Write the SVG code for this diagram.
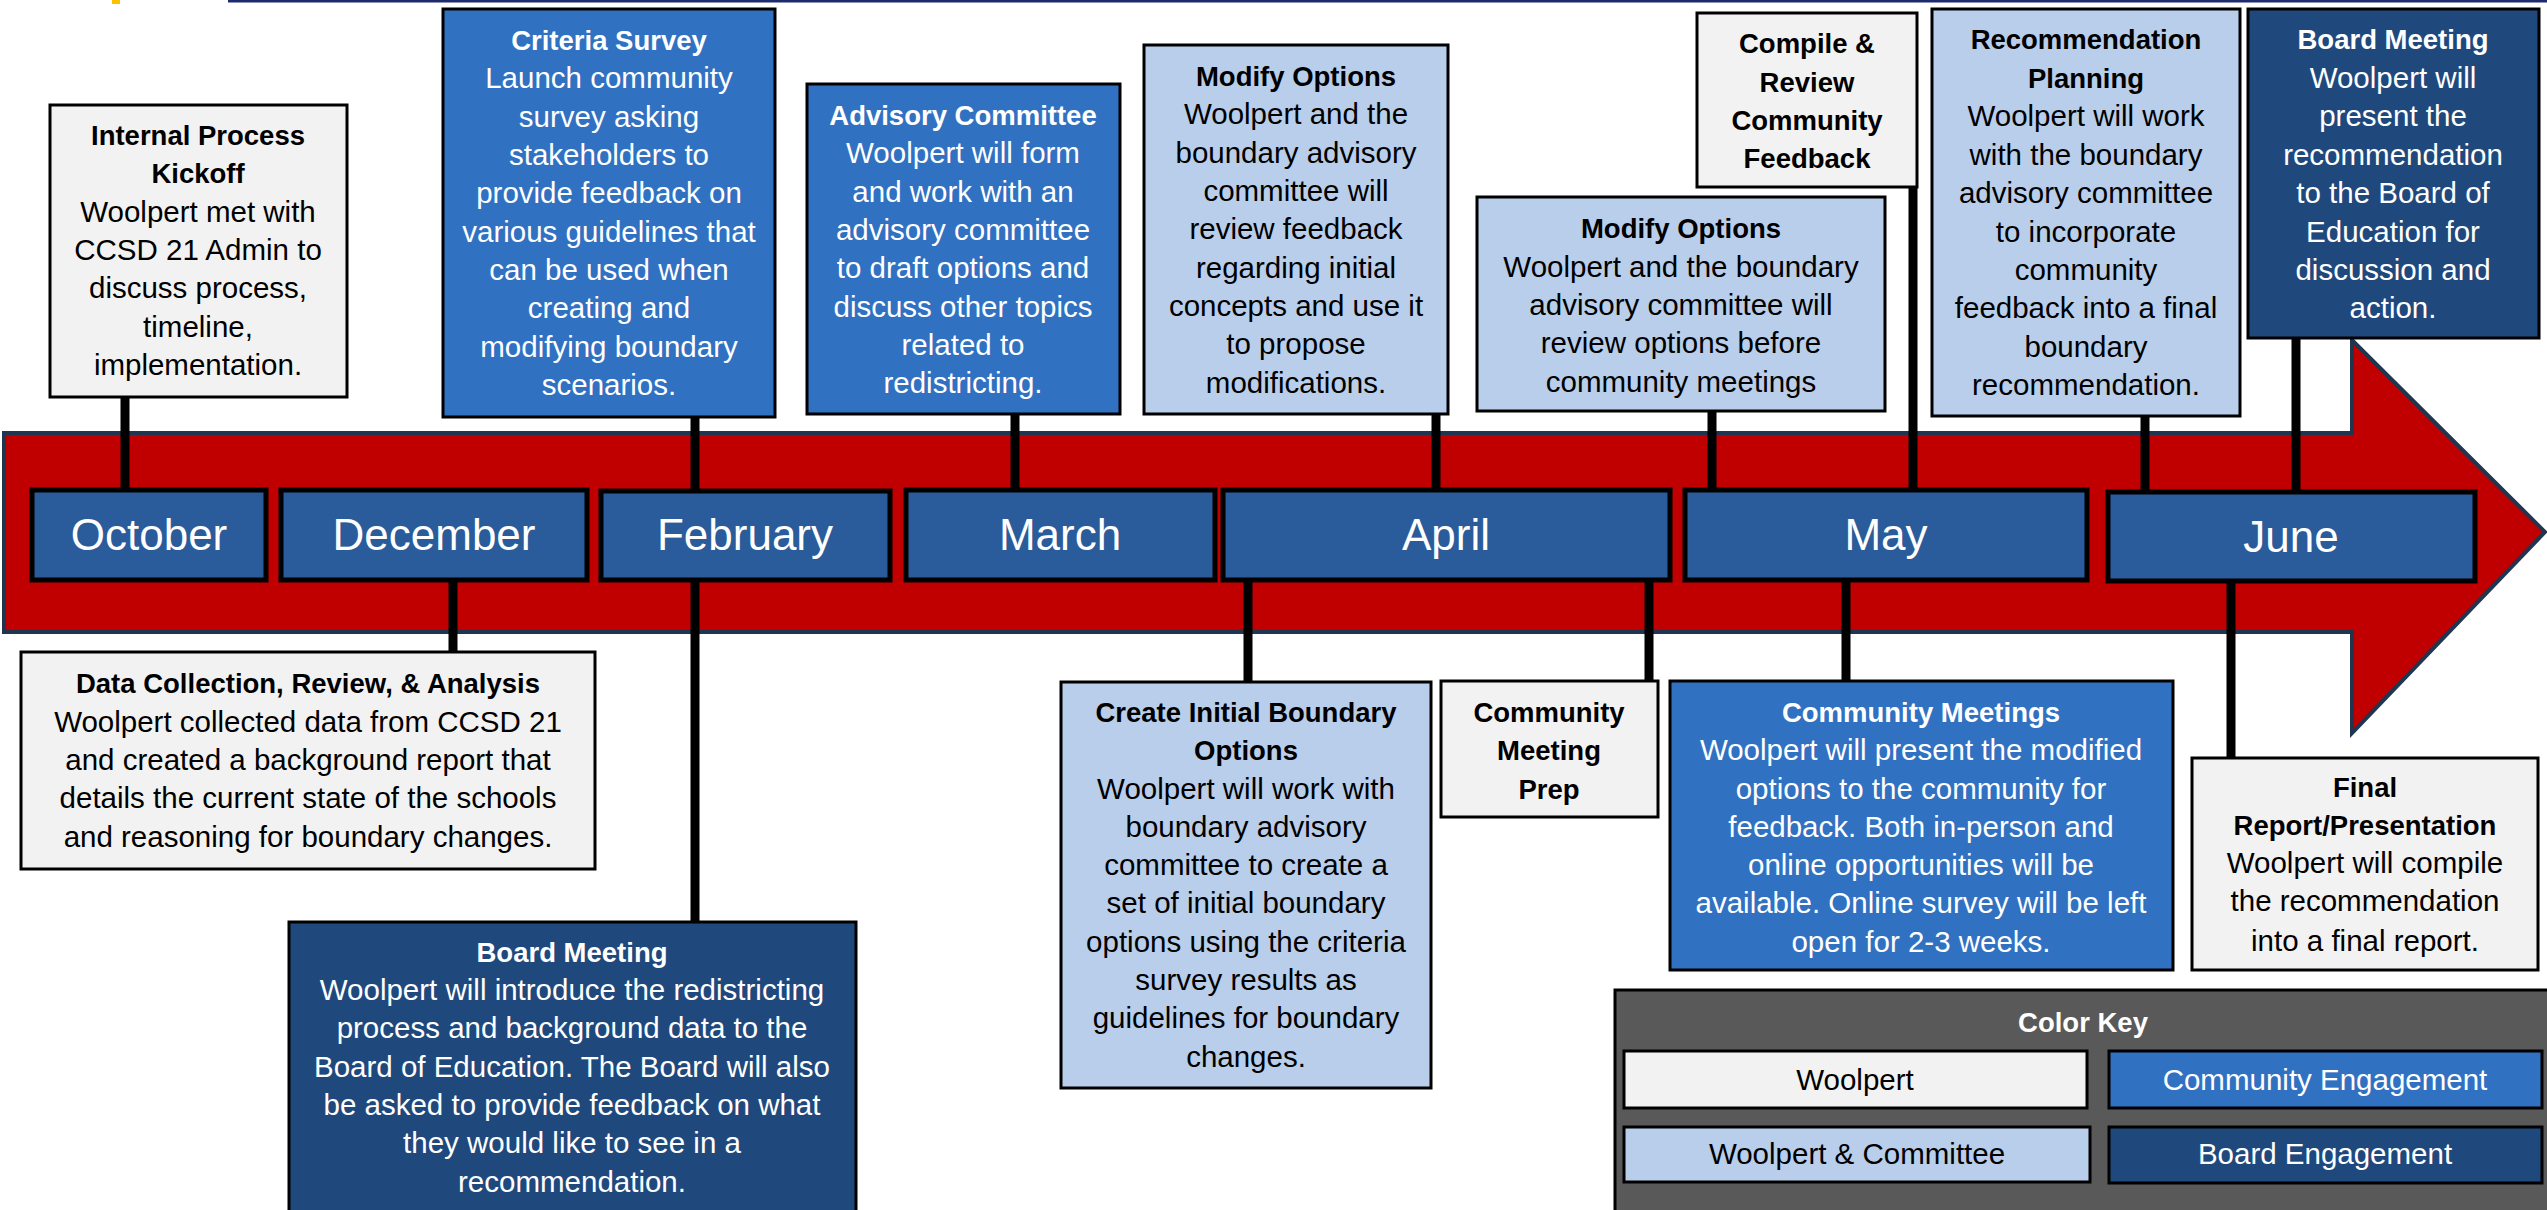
<svg xmlns="http://www.w3.org/2000/svg" width="2547" height="1210" viewBox="0 0 2547 1210">
<style>
.box{stroke:#000;stroke-width:3}
.w{fill:#F2F2F2}
.lb{fill:#B8CEEB}
.mb{fill:#3171C1}
.nb{fill:#1F497D}
.mo{fill:#2A5B9A;stroke:#000;stroke-width:5}
.t{font-family:"Liberation Sans",Arial,sans-serif;font-size:29.5px;text-anchor:middle}
.b{font-weight:bold;font-size:27.5px}
.dk{fill:#000}
.lt{fill:#fff}
.mt{font-family:"Liberation Sans",Arial,sans-serif;font-size:44px;fill:#fff;text-anchor:middle}
.con{stroke:#000;stroke-width:9;fill:none}
</style>
<rect x="0" y="0" width="2547" height="1210" fill="#fff"/>
<rect x="112" y="0" width="8" height="4" fill="#FFC000"/>
<rect x="228" y="0" width="2319" height="2.5" fill="#1F2A6E"/>

<g id="arrow">
<path d="M4,433 H2352 V340 L2545,532 L2352,733 V632 H4 Z" fill="#C00000" stroke="#1F3550" stroke-width="4"/>
</g>

<g id="connectors">
<line class="con" x1="125" y1="397" x2="125" y2="490"/>
<line class="con" x1="695" y1="417" x2="695" y2="491"/>
<line class="con" x1="1015" y1="414" x2="1015" y2="490"/>
<line class="con" x1="1436" y1="414" x2="1436" y2="490"/>
<line class="con" x1="1712" y1="411" x2="1712" y2="490"/>
<line class="con" x1="1913" y1="187" x2="1913" y2="490"/>
<line class="con" x1="2145" y1="416" x2="2145" y2="492"/>
<line class="con" x1="2296" y1="338" x2="2296" y2="492"/>
<line class="con" x1="453" y1="580" x2="453" y2="652"/>
<line class="con" x1="695" y1="580" x2="695" y2="922"/>
<line class="con" x1="1248" y1="580" x2="1248" y2="682"/>
<line class="con" x1="1649" y1="580" x2="1649" y2="681"/>
<line class="con" x1="1846" y1="580" x2="1846" y2="681"/>
<line class="con" x1="2231" y1="582" x2="2231" y2="758"/>
</g>

<g id="month-october"><rect class="mo" x="32" y="490" width="234" height="90"/><text class="mt" x="149" y="550">October</text></g>
<g id="month-december"><rect class="mo" x="281" y="490" width="306" height="90"/><text class="mt" x="434" y="550">December</text></g>
<g id="month-february"><rect class="mo" x="601" y="491" width="289" height="89"/><text class="mt" x="745" y="550">February</text></g>
<g id="month-march"><rect class="mo" x="906" y="490" width="309" height="90"/><text class="mt" x="1060" y="550">March</text></g>
<g id="month-april"><rect class="mo" x="1223" y="490" width="447" height="90"/><text class="mt" x="1446" y="550">April</text></g>
<g id="month-may"><rect class="mo" x="1685" y="490" width="402" height="90"/><text class="mt" x="1886" y="550">May</text></g>
<g id="month-june"><rect class="mo" x="2108" y="492" width="367" height="89"/><text class="mt" x="2291" y="552">June</text></g>

<g id="internal-kickoff">
<rect class="box w" x="50" y="105" width="297" height="292"/>
<text class="t dk"><tspan class="b" x="198" y="145">Internal Process</tspan><tspan class="b" x="198" y="183">Kickoff</tspan><tspan x="198" y="222">Woolpert met with</tspan><tspan x="198" y="260">CCSD 21 Admin to</tspan><tspan x="198" y="298">discuss process,</tspan><tspan x="198" y="337">timeline,</tspan><tspan x="198" y="375">implementation.</tspan></text>
</g>

<g id="criteria-survey">
<rect class="box mb" x="443" y="9" width="332" height="408"/>
<text class="t lt"><tspan class="b" x="609" y="50">Criteria Survey</tspan><tspan x="609" y="88">Launch community</tspan><tspan x="609" y="127">survey asking</tspan><tspan x="609" y="165">stakeholders to</tspan><tspan x="609" y="203">provide feedback on</tspan><tspan x="609" y="242">various guidelines that</tspan><tspan x="609" y="280">can be used when</tspan><tspan x="609" y="318">creating and</tspan><tspan x="609" y="357">modifying boundary</tspan><tspan x="609" y="395">scenarios.</tspan></text>
</g>

<g id="advisory-committee">
<rect class="box mb" x="807" y="84" width="313" height="330"/>
<text class="t lt"><tspan class="b" x="963" y="125">Advisory Committee</tspan><tspan x="963" y="163">Woolpert will form</tspan><tspan x="963" y="202">and work with an</tspan><tspan x="963" y="240">advisory committee</tspan><tspan x="963" y="278">to draft options and</tspan><tspan x="963" y="317">discuss other topics</tspan><tspan x="963" y="355">related to</tspan><tspan x="963" y="393">redistricting.</tspan></text>
</g>

<g id="modify-options-1">
<rect class="box lb" x="1144" y="45" width="304" height="369"/>
<text class="t dk"><tspan class="b" x="1296" y="86">Modify Options</tspan><tspan x="1296" y="124">Woolpert and the</tspan><tspan x="1296" y="163">boundary advisory</tspan><tspan x="1296" y="201">committee will</tspan><tspan x="1296" y="239">review feedback</tspan><tspan x="1296" y="278">regarding initial</tspan><tspan x="1296" y="316">concepts and use it</tspan><tspan x="1296" y="354">to propose</tspan><tspan x="1296" y="393">modifications.</tspan></text>
</g>

<g id="modify-options-2">
<rect class="box lb" x="1477" y="197" width="408" height="214"/>
<text class="t dk"><tspan class="b" x="1681" y="238">Modify Options</tspan><tspan x="1681" y="277">Woolpert and the boundary</tspan><tspan x="1681" y="315">advisory committee will</tspan><tspan x="1681" y="353">review options before</tspan><tspan x="1681" y="392">community meetings</tspan></text>
</g>

<g id="compile-feedback">
<rect class="box w" x="1697" y="13" width="220" height="174"/>
<text class="t dk b"><tspan x="1807" y="53">Compile &amp;</tspan><tspan x="1807" y="92">Review</tspan><tspan x="1807" y="130">Community</tspan><tspan x="1807" y="168">Feedback</tspan></text>
</g>

<g id="recommendation-planning">
<rect class="box lb" x="1932" y="9" width="308" height="407"/>
<text class="t dk"><tspan class="b" x="2086" y="49">Recommendation</tspan><tspan class="b" x="2086" y="88">Planning</tspan><tspan x="2086" y="126">Woolpert will work</tspan><tspan x="2086" y="165">with the boundary</tspan><tspan x="2086" y="203">advisory committee</tspan><tspan x="2086" y="242">to incorporate</tspan><tspan x="2086" y="280">community</tspan><tspan x="2086" y="318">feedback into a final</tspan><tspan x="2086" y="357">boundary</tspan><tspan x="2086" y="395">recommendation.</tspan></text>
</g>

<g id="board-meeting-june">
<rect class="box nb" x="2248" y="9" width="291" height="329"/>
<text class="t lt"><tspan class="b" x="2393" y="49">Board Meeting</tspan><tspan x="2393" y="88">Woolpert will</tspan><tspan x="2393" y="126">present the</tspan><tspan x="2393" y="165">recommendation</tspan><tspan x="2393" y="203">to the Board of</tspan><tspan x="2393" y="242">Education for</tspan><tspan x="2393" y="280">discussion and</tspan><tspan x="2393" y="318">action.</tspan></text>
</g>

<g id="data-collection">
<rect class="box w" x="21" y="652" width="574" height="217"/>
<text class="t dk"><tspan class="b" x="308" y="693">Data Collection, Review, &amp; Analysis</tspan><tspan x="308" y="732">Woolpert collected data from CCSD 21</tspan><tspan x="308" y="770">and created a background report that</tspan><tspan x="308" y="808">details the current state of the schools</tspan><tspan x="308" y="847">and reasoning for boundary changes.</tspan></text>
</g>

<g id="board-meeting-february">
<rect class="box nb" x="289" y="922" width="567" height="300"/>
<text class="t lt"><tspan class="b" x="572" y="962">Board Meeting</tspan><tspan x="572" y="1000">Woolpert will introduce the redistricting</tspan><tspan x="572" y="1038">process and background data to the</tspan><tspan x="572" y="1077">Board of Education. The Board will also</tspan><tspan x="572" y="1115">be asked to provide feedback on what</tspan><tspan x="572" y="1153">they would like to see in a</tspan><tspan x="572" y="1192">recommendation.</tspan></text>
</g>

<g id="create-initial-options">
<rect class="box lb" x="1061" y="682" width="370" height="406"/>
<text class="t dk"><tspan class="b" x="1246" y="722">Create Initial Boundary</tspan><tspan class="b" x="1246" y="760">Options</tspan><tspan x="1246" y="799">Woolpert will work with</tspan><tspan x="1246" y="837">boundary advisory</tspan><tspan x="1246" y="875">committee to create a</tspan><tspan x="1246" y="913">set of initial boundary</tspan><tspan x="1246" y="952">options using the criteria</tspan><tspan x="1246" y="990">survey results as</tspan><tspan x="1246" y="1028">guidelines for boundary</tspan><tspan x="1246" y="1067">changes.</tspan></text>
</g>

<g id="community-meeting-prep">
<rect class="box w" x="1441" y="681" width="217" height="136"/>
<text class="t dk b"><tspan x="1549" y="722">Community</tspan><tspan x="1549" y="760">Meeting</tspan><tspan x="1549" y="799">Prep</tspan></text>
</g>

<g id="community-meetings">
<rect class="box mb" x="1670" y="681" width="503" height="289"/>
<text class="t lt"><tspan class="b" x="1921" y="722">Community Meetings</tspan><tspan x="1921" y="760">Woolpert will present the modified</tspan><tspan x="1921" y="799">options to the community for</tspan><tspan x="1921" y="837">feedback. Both in-person and</tspan><tspan x="1921" y="875">online opportunities will be</tspan><tspan x="1921" y="913">available. Online survey will be left</tspan><tspan x="1921" y="952">open for 2-3 weeks.</tspan></text>
</g>

<g id="final-report">
<rect class="box w" x="2192" y="758" width="346" height="212"/>
<text class="t dk"><tspan class="b" x="2365" y="797">Final</tspan><tspan class="b" x="2365" y="835">Report/Presentation</tspan><tspan x="2365" y="873">Woolpert will compile</tspan><tspan x="2365" y="911">the recommendation</tspan><tspan x="2365" y="951">into a final report.</tspan></text>
</g>

<g id="color-key">
<rect x="1615" y="990" width="940" height="230" fill="#595959" stroke="#000" stroke-width="3"/>
<text class="t lt b" x="2083" y="1032">Color Key</text>
<rect class="box w" x="1624" y="1051" width="463" height="57"/>
<text class="t dk" x="1855" y="1090">Woolpert</text>
<rect class="box mb" x="2109" y="1051" width="433" height="57"/>
<text class="t lt" x="2325" y="1090">Community Engagement</text>
<rect class="box lb" x="1624" y="1127" width="466" height="55"/>
<text class="t dk" x="1857" y="1164">Woolpert &amp; Committee</text>
<rect class="box nb" x="2109" y="1127" width="433" height="56"/>
<text class="t lt" x="2325" y="1164">Board Engagement</text>
</g>
</svg>
